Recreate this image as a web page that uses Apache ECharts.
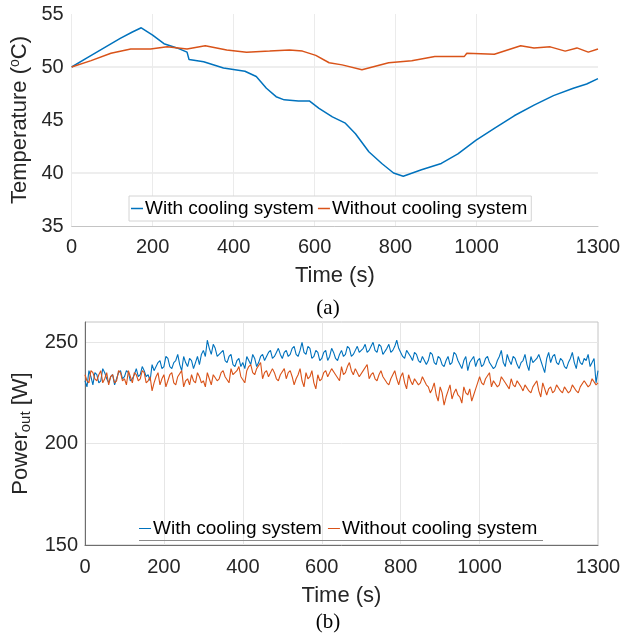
<!DOCTYPE html>
<html>
<head>
<meta charset="utf-8">
<script src="https://cdn.jsdelivr.net/npm/echarts@6/dist/echarts.min.js"></script>
<style>
  html, body { margin: 0; padding: 0; background: #fff; }
  #chart { width: 624px; height: 639px; }
</style>
</head>
<body>
<div id="chart"></div>
<script>
// series names
var seriesNames = ["With cooling system", "Without cooling system"];

// (a) temperature (time in s, temperature in degC)
var tempTimeWith = [0, 40, 80, 120, 150, 172, 200, 228, 260, 285, 290, 326, 375, 428, 456, 481, 505, 525, 560, 587, 611, 644, 676, 701, 734, 766, 795, 819, 864, 913, 954, 999, 1044, 1093, 1142, 1190, 1239, 1272, 1300];
var tempWith = [50.0, 50.9, 51.8, 52.7, 53.3, 53.7, 53.0, 52.2, 51.8, 51.4, 50.7, 50.5, 49.9, 49.6, 49.1, 48.0, 47.2, 46.9, 46.8, 46.8, 46.1, 45.3, 44.7, 43.7, 42.0, 40.9, 40.0, 39.7, 40.3, 40.9, 41.8, 43.1, 44.2, 45.4, 46.4, 47.3, 48.0, 48.4, 48.9];
var tempTimeWithout = [0, 48, 97, 146, 195, 236, 285, 330, 383, 432, 489, 538, 570, 603, 636, 668, 717, 783, 840, 897, 970, 976, 1044, 1109, 1142, 1182, 1219, 1248, 1276, 1300];
var tempWithout = [50.0, 50.6, 51.3, 51.7, 51.7, 51.9, 51.7, 52.0, 51.6, 51.4, 51.5, 51.6, 51.5, 51.1, 50.4, 50.2, 49.75, 50.4, 50.6, 51.0, 51.0, 51.3, 51.2, 52.0, 51.8, 51.9, 51.5, 51.8, 51.4, 51.7];

// (b) output power, one reading every 5 s from 0 to 1300 s (one row = 100 s)
var powerStep = 5;
var powerWith = [
  231, 228, 236, 233, 229, 235, 234, 230, 231, 237, 235, 232, 230, 233, 234, 229, 232, 235, 236, 232,
  233, 236, 235, 231, 232, 234, 237, 233, 234, 238, 236, 233, 234, 231, 239, 236, 236, 240, 241, 237,
  238, 243, 242, 238, 237, 240, 241, 244, 239, 236, 243, 240, 238, 242, 241, 237, 240, 243, 239, 244,
  246, 243, 251, 247, 244, 249, 247, 243, 243, 245, 246, 241, 240, 243, 244, 239, 238, 241, 242, 238,
  240, 237, 243, 241, 239, 244, 242, 238, 240, 243, 244, 241, 241, 245, 246, 242, 243, 245, 247, 244,
  242, 245, 246, 243, 244, 247, 248, 244, 243, 246, 250, 245, 244, 248, 247, 242, 243, 246, 245, 241,
  242, 245, 246, 241, 243, 247, 245, 242, 241, 244, 246, 243, 244, 248, 247, 243, 244, 246, 248, 245,
  245, 247, 249, 245, 246, 248, 250, 246, 245, 249, 248, 244, 244, 247, 249, 245, 246, 248, 251, 247,
  245, 243, 242, 246, 246, 243, 241, 245, 244, 241, 240, 243, 243, 239, 241, 245, 244, 240, 239, 243,
  242, 239, 238, 241, 243, 239, 240, 245, 244, 241, 239, 237, 241, 243, 236, 240, 240, 243, 238, 241,
  242, 238, 239, 242, 243, 240, 240, 237, 238, 241, 243, 246, 240, 238, 244, 241, 239, 243, 242, 239,
  237, 240, 241, 244, 239, 236, 243, 240, 240, 242, 244, 241, 238, 235, 242, 245, 240, 243, 244, 240,
  239, 242, 241, 238, 237, 240, 242, 245, 240, 237, 243, 240, 239, 242, 241, 244, 238, 240, 242, 230,
  236
];
var powerWithout = [
  234, 231, 230, 236, 235, 232, 231, 234, 236, 230, 232, 235, 229, 233, 234, 230, 231, 236, 235, 231,
  232, 229, 236, 233, 230, 235, 234, 231, 232, 236, 235, 230, 231, 233, 226, 230, 233, 235, 229, 232,
  234, 228, 231, 234, 235, 230, 229, 233, 233, 236, 228, 231, 232, 229, 234, 231, 230, 235, 233, 230,
  231, 228, 235, 232, 229, 234, 234, 231, 232, 235, 236, 233, 233, 230, 237, 234, 234, 236, 238, 233,
  233, 230, 236, 238, 239, 235, 234, 237, 237, 240, 232, 235, 236, 233, 233, 237, 235, 232, 231, 234,
  234, 237, 232, 235, 236, 233, 229, 232, 234, 237, 231, 228, 235, 232, 233, 236, 230, 227, 234, 231,
  232, 235, 236, 233, 233, 237, 237, 234, 234, 231, 238, 234, 235, 238, 240, 236, 234, 237, 237, 233,
  233, 236, 236, 239, 232, 234, 235, 232, 231, 234, 236, 233, 233, 230, 229, 232, 234, 236, 232, 229,
  233, 235, 230, 227, 234, 231, 229, 232, 232, 229, 230, 233, 233, 229, 228, 225, 227, 230, 224, 221,
  228, 225, 219, 223, 226, 229, 222, 225, 227, 224, 223, 220, 228, 225, 224, 227, 221, 224, 227, 230,
  233, 230, 229, 232, 232, 235, 228, 231, 231, 228, 229, 233, 233, 230, 230, 227, 232, 229, 228, 231,
  231, 228, 226, 229, 229, 226, 225, 228, 228, 231, 226, 223, 230, 227, 224, 227, 228, 225, 226, 229,
  229, 226, 225, 228, 228, 225, 226, 229, 229, 226, 225, 228, 228, 231, 231, 228, 229, 232, 232, 229,
  230
];

// tick labels
var timeLabels = [0, 200, 400, 600, 800, 1000, 1300];
var timeGrid = [0, 200, 400, 600, 800, 1000];
var tempLabels = [35, 40, 45, 50, 55];
var powerLabels = [150, 200, 250];

var blue = "#0072BD", orange = "#D95319";
var font = "Liberation Sans";

function pairs(xs, ys) {
  return ys.map(function (v, i) { return [xs[i], v]; });
}
function stepped(ys, step) {
  return ys.map(function (v, i) { return [i * step, v]; });
}
function plain(v) { return String(v); }

var chart = echarts.init(document.getElementById("chart"), null, { renderer: "canvas" });

var tickLabel = { color: "#262626", fontSize: 20, fontFamily: font, formatter: plain };

var option = {
  animation: false,
  backgroundColor: "#fff",
  textStyle: { fontFamily: font },
  grid: [
    { left: 67, top: 14, width: 531, height: 212, containLabel: false },
    { left: 85, top: 322, width: 513, height: 223, containLabel: false, show: true, borderColor: "#c4c4c4", borderWidth: 1 }
  ],
  xAxis: [
    {
      gridIndex: 0, type: "value", min: 0, max: 1300,
      name: "Time (s)", nameLocation: "middle", nameGap: 39,
      nameTextStyle: { color: "#262626", fontSize: 22, fontFamily: font },
      axisLine: { show: true, lineStyle: { color: "#c4c4c4", width: 1 } },
      axisTick: { show: false, customValues: timeGrid },
      axisLabel: Object.assign({ customValues: timeLabels, margin: 11 }, tickLabel),
      splitLine: { show: true, lineStyle: { color: "#ebebeb", width: 1 } }
    },
    {
      gridIndex: 1, type: "value", min: 0, max: 1300,
      name: "Time (s)", nameLocation: "middle", nameGap: 40,
      nameTextStyle: { color: "#262626", fontSize: 22, fontFamily: font },
      axisLine: { show: true, lineStyle: { color: "#6e6e6e", width: 1 } },
      axisTick: { show: false, customValues: timeGrid },
      axisLabel: Object.assign({ customValues: timeLabels, margin: 12 }, tickLabel),
      splitLine: { show: true, lineStyle: { color: "#e6e6e6", width: 1 } }
    }
  ],
  yAxis: [
    {
      gridIndex: 0, type: "value", min: 35, max: 55, interval: 5,
      name: "{n|Temperature (}{s|o}{n|C)}", nameLocation: "middle", nameGap: 34,
      nameTextStyle: {
        rich: {
          n: { color: "#262626", fontSize: 22, fontFamily: font },
          s: { color: "#262626", fontSize: 14, fontFamily: font, verticalAlign: "top", padding: [0, 0, 9, 0] }
        }
      },
      axisLine: { show: false },
      axisTick: { show: false, customValues: [40, 50] },
      axisLabel: Object.assign({ customValues: tempLabels, margin: 8 }, tickLabel),
      splitLine: { show: true, lineStyle: { color: "#e8e8e8", width: 1.5 } }
    },
    {
      gridIndex: 1, type: "value", min: 150, max: 260, interval: 50,
      name: "{n|Power}{s|out}{n| [W]}", nameLocation: "middle", nameGap: 44,
      nameTextStyle: {
        rich: {
          n: { color: "#262626", fontSize: 22, fontFamily: font },
          s: { color: "#262626", fontSize: 15, fontFamily: font, padding: [10, 0, 0, 0] }
        }
      },
      axisLine: { show: true, lineStyle: { color: "#6e6e6e", width: 1 } },
      axisTick: { show: false, customValues: [200, 250] },
      axisLabel: Object.assign({ customValues: powerLabels, margin: 7 }, tickLabel),
      splitLine: { show: true, lineStyle: { color: "#e6e6e6", width: 1 } }
    }
  ],
  legend: [
    {
      data: seriesNames, left: 129, top: 196, orient: "horizontal",
      icon: "rect", itemWidth: 12, itemHeight: 1.5, itemGap: 4,
      padding: [3, 4, 3, 2],
      borderColor: "#d4d4d4", borderWidth: 1, backgroundColor: "#fff",
      textStyle: { color: "#000", fontSize: 19, fontFamily: font, padding: [0, 0, 0, -3] },
      selectedMode: false
    },
    {
      data: seriesNames, left: 139, top: 519, orient: "horizontal",
      icon: "rect", itemWidth: 12, itemHeight: 1, itemGap: 6,
      padding: [0, 2, 0, 0],
      textStyle: { color: "#000", fontSize: 19, fontFamily: font, padding: [0, 0, 0, -3] },
      selectedMode: false
    }
  ],
  graphic: [
    { type: "line", shape: { x1: 139, y1: 540.5, x2: 543, y2: 540.5 }, style: { stroke: "#8a8a8a", lineWidth: 1 }, z: 10 },
    { type: "text", x: 328, y: 308, style: { text: "(a)", font: "21px 'Liberation Serif'", fill: "#000", textAlign: "center", textVerticalAlign: "middle" } },
    { type: "text", x: 328, y: 622, style: { text: "(b)", font: "21px 'Liberation Serif'", fill: "#000", textAlign: "center", textVerticalAlign: "middle" } }
  ],
  series: [
    {
      name: seriesNames[0], type: "line", xAxisIndex: 0, yAxisIndex: 0,
      data: pairs(tempTimeWith, tempWith), showSymbol: false, color: blue,
      lineStyle: { width: 1.5, color: blue }
    },
    {
      name: seriesNames[1], type: "line", xAxisIndex: 0, yAxisIndex: 0,
      data: pairs(tempTimeWithout, tempWithout), showSymbol: false, color: orange,
      lineStyle: { width: 1.5, color: orange }
    },
    {
      name: seriesNames[0], type: "line", xAxisIndex: 1, yAxisIndex: 1,
      data: stepped(powerWith, powerStep), showSymbol: false, color: blue,
      lineStyle: { width: 1.1, color: blue }
    },
    {
      name: seriesNames[1], type: "line", xAxisIndex: 1, yAxisIndex: 1,
      data: stepped(powerWithout, powerStep), showSymbol: false, color: orange,
      lineStyle: { width: 1.1, color: orange }
    }
  ]
};

chart.setOption(option);
</script>
</body>
</html>
